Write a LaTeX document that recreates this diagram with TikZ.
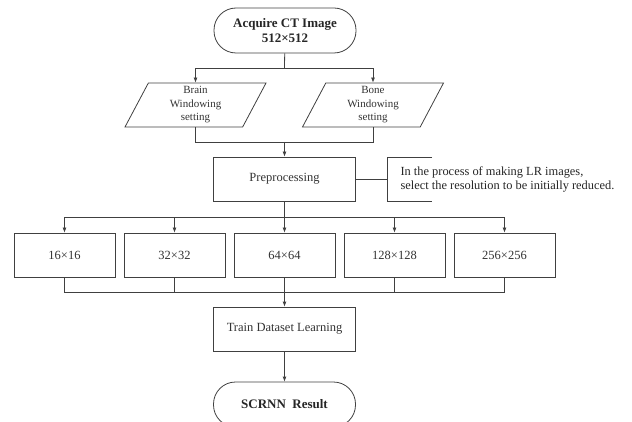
\documentclass[tikz,border=0pt]{standalone}
\usepackage{fontspec}
\setmainfont{Liberation Serif}
\usetikzlibrary{arrows.meta,shapes.geometric}

\begin{document}
\begin{tikzpicture}[x=1pt, y=-1pt,
		line/.style={line width=0.8pt, draw=black!75},
		arr/.style={line, -{Latex[length=5pt,width=4pt]}},
		term/.style={line, rectangle, rounded corners=22pt, minimum width=142pt, minimum height=45pt, align=center, text=black!85, font=\fontsize{13}{15}\selectfont\bfseries},
		proc/.style={line, rectangle, minimum width=142pt, minimum height=44pt, text=black!80, font=\fontsize{12.5}{14}\selectfont},
		res/.style={proc, minimum width=101pt},
		data/.style={line, trapezium, trapezium left angle=57.5, trapezium right angle=122.5, trapezium stretches body, minimum width=141pt, minimum height=44pt, inner sep=0pt, align=center, text=black!80, font=\fontsize{11}{13.5}\selectfont},
		notetxt/.style={align=left, text=black!85, font=\fontsize{12.4}{14}\selectfont}]
	%%%%% START %%%%%
	\useasboundingbox (0,0) rectangle (632,422);
	\clip (0,0) rectangle (632,422);
	
	\node[term] (start) at (285,30.5) {Acquire CT Image\\512×512};
	\node[data] (brain) at (195.5,105) {Brain\\Windowing\\setting};
	\node[data] (bone) at (373,105) {Bone\\Windowing\\setting};
	\node[proc] (pre) at (284.5,179) {Preprocessing};
	\node[notetxt, anchor=west] (note) at (397,179) {In the process of making LR images,\\select the resolution to be initially reduced.};
	\coordinate (brk) at (387,179);
	
	\node[res] (r16) at (64.5,255) {16×16};
	\node[res] (r32) at (174.5,255) {32×32};
	\node[res] (r64) at (284.5,255) {64×64};
	\node[res] (r128) at (394.5,255) {128×128};
	\node[res] (r256) at (504.5,255) {256×256};
	
	\node[proc] (train) at (284.5,329) {Train Dataset Learning};
	\node[term] (result) at (284.5,404.5) {SCRNN\ \ Result};
	
	% windowing split
	\coordinate (split1) at (284.5,68);
	\coordinate (join1) at (284.5,142);
	\draw[line] (start) -- (split1);
	\draw[arr] (split1) -| (brain.north);
	\draw[arr] (split1) -| (bone.north);
	\draw[line] (brain.south) |- (join1);
	\draw[line] (bone.south) |- (join1);
	\draw[arr] (join1) -- (pre);
	
	% note bracket
	\draw[line] (pre) -- (brk);
	\draw[line] (brk) ++(45,-22) -- ++(-45,0) -- ++(0,44) -- ++(45,0);
	
	% resolutions
	\coordinate (split2) at (284.5,217);
	\coordinate (join2) at (284.5,292);
	\draw[line] (pre) -- (split2);
	\foreach \r in {r16,r32,r64,r128,r256}{
		\draw[arr] (split2) -| (\r.north);
		\draw[line] (\r.south) |- (join2);
	}
	\draw[arr] (join2) -- (train);
	\draw[arr] (train) -- (result);
	%%%%% END %%%%%
\end{tikzpicture}
\end{document}
